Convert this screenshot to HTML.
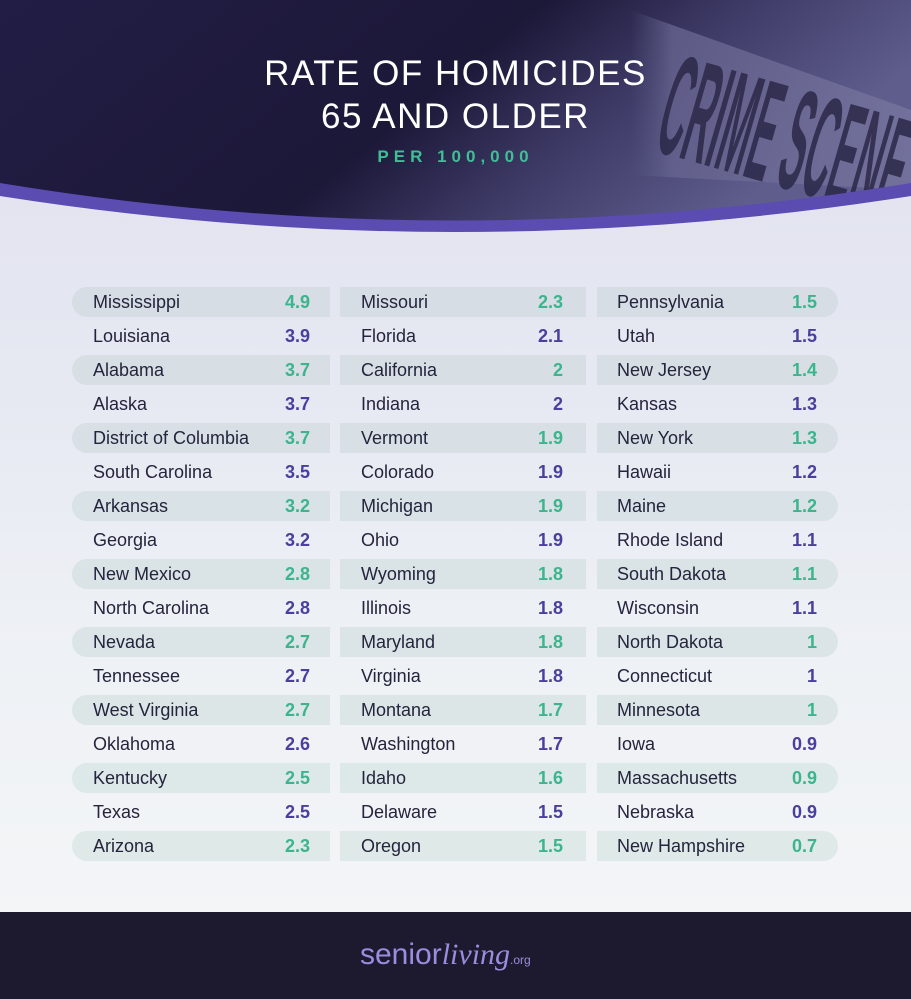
<!DOCTYPE html>
<html><head><meta charset="utf-8"><style>
*{margin:0;padding:0;box-sizing:border-box}
body{width:911px;height:999px;overflow:hidden;position:relative;font-family:"Liberation Sans",sans-serif;background:linear-gradient(#e1e1ef 0,#e4e6f1 300px,#eef1f5 650px,#f3f5f7 912px)}
.hdr{position:absolute;left:0;top:0;width:911px;height:240px}
.t{position:absolute;left:0;width:911px;text-align:center;color:#fff;font-size:35px;letter-spacing:1.5px}
.sub{position:absolute;left:0;width:911px;text-align:center;color:#3fbf95;font-size:17px;font-weight:bold;letter-spacing:5px;top:147px}
.pill{position:absolute;height:30px}
.n{position:absolute;font-size:18px;color:#25243d;line-height:30px}
.v{position:absolute;font-size:18px;font-weight:bold;line-height:30px;text-align:right;width:60px}
.g{color:#3cb48c}.p{color:#4a3f9c}
.ftr{position:absolute;left:0;top:912px;width:911px;height:87px;background:#1d1a30}
.logo{position:absolute;top:938px;left:360px;color:#9a8de0;font-size:30px}
</style></head><body>
<svg class="hdr" viewBox="0 0 911 240" width="911" height="240">
<defs>
<linearGradient id="bg" x1="0" y1="0" x2="1" y2="0.3"><stop offset="0" stop-color="#221d45"/><stop offset="0.55" stop-color="#1c1838"/><stop offset="0.75" stop-color="#3d3a66"/><stop offset="1" stop-color="#5f5d8c"/></linearGradient>
<linearGradient id="tape" x1="0" y1="0" x2="1" y2="0"><stop offset="0" stop-color="#56547f" stop-opacity="0"/><stop offset="0.15" stop-color="#66648f" stop-opacity="0.8"/><stop offset="1" stop-color="#77769f" stop-opacity="0.8"/></linearGradient>
<clipPath id="hc"><path d="M0 0H911V185Q455 260 0 185Z"/></clipPath>
</defs>
<path d="M0 0H911V185Q455 260 0 185Z" fill="url(#bg)"/>
<g clip-path="url(#hc)">
<path d="M630 10L911 110V190L630 175Z" fill="url(#tape)"/>
<g transform="translate(652,150) rotate(16) scale(0.4,1.6)"><text x="0" y="0" font-family="Liberation Sans" font-weight="bold" font-size="90" fill="#2b2848" opacity="0.85">CRIME SCENE DO NOT</text></g>
</g>
<path d="M0 183Q455 258 911 183V196Q455 268 0 196Z" fill="#5a4cb0"/>
</svg>
<div class="t" style="top:54px">RATE OF HOMICIDES</div>
<div class="t" style="top:97px">65 AND OLDER</div>
<div class="sub">PER 100,000</div>
<div id="rows"></div>
<div class="ftr"></div>
<div class="logo">senior<i style="font-family:'Liberation Serif',serif">living</i><span style="font-size:12px">.org</span></div>
<script>
var d=[["Mississippi","4.9","Missouri","2.3","Pennsylvania","1.5"],["Louisiana","3.9","Florida","2.1","Utah","1.5"],["Alabama","3.7","California","2","New Jersey","1.4"],["Alaska","3.7","Indiana","2","Kansas","1.3"],["District of Columbia","3.7","Vermont","1.9","New York","1.3"],["South Carolina","3.5","Colorado","1.9","Hawaii","1.2"],["Arkansas","3.2","Michigan","1.9","Maine","1.2"],["Georgia","3.2","Ohio","1.9","Rhode Island","1.1"],["New Mexico","2.8","Wyoming","1.8","South Dakota","1.1"],["North Carolina","2.8","Illinois","1.8","Wisconsin","1.1"],["Nevada","2.7","Maryland","1.8","North Dakota","1"],["Tennessee","2.7","Virginia","1.8","Connecticut","1"],["West Virginia","2.7","Montana","1.7","Minnesota","1"],["Oklahoma","2.6","Washington","1.7","Iowa","0.9"],["Kentucky","2.5","Idaho","1.6","Massachusetts","0.9"],["Texas","2.5","Delaware","1.5","Nebraska","0.9"],["Arizona","2.3","Oregon","1.5","New Hampshire","0.7"]];
var cols=[[72,330,93,310,"15px 0 0 15px"],[340,586,361,563,"0"],[597,838,617,817,"0 15px 15px 0"]];
var h="";
d.forEach(function(r,i){var y=287+i*34;var odd=i%2==0;
cols.forEach(function(c,j){
if(odd){var t=i/16;var col="rgb("+Math.round(214+8*t)+","+Math.round(221+12*t)+","+Math.round(228+4*t)+")";
h+='<div class="pill" style="left:'+c[0]+'px;top:'+y+'px;width:'+(c[1]-c[0])+'px;border-radius:'+c[4]+';background:'+col+'"></div>';}
h+='<div class="n" style="left:'+c[2]+'px;top:'+y+'px">'+r[j*2]+'</div>';
h+='<div class="v '+(odd?'g':'p')+'" style="left:'+(c[3]-60)+'px;top:'+y+'px">'+r[j*2+1]+'</div>';
});});
document.getElementById("rows").innerHTML=h;
</script>
</body></html>
